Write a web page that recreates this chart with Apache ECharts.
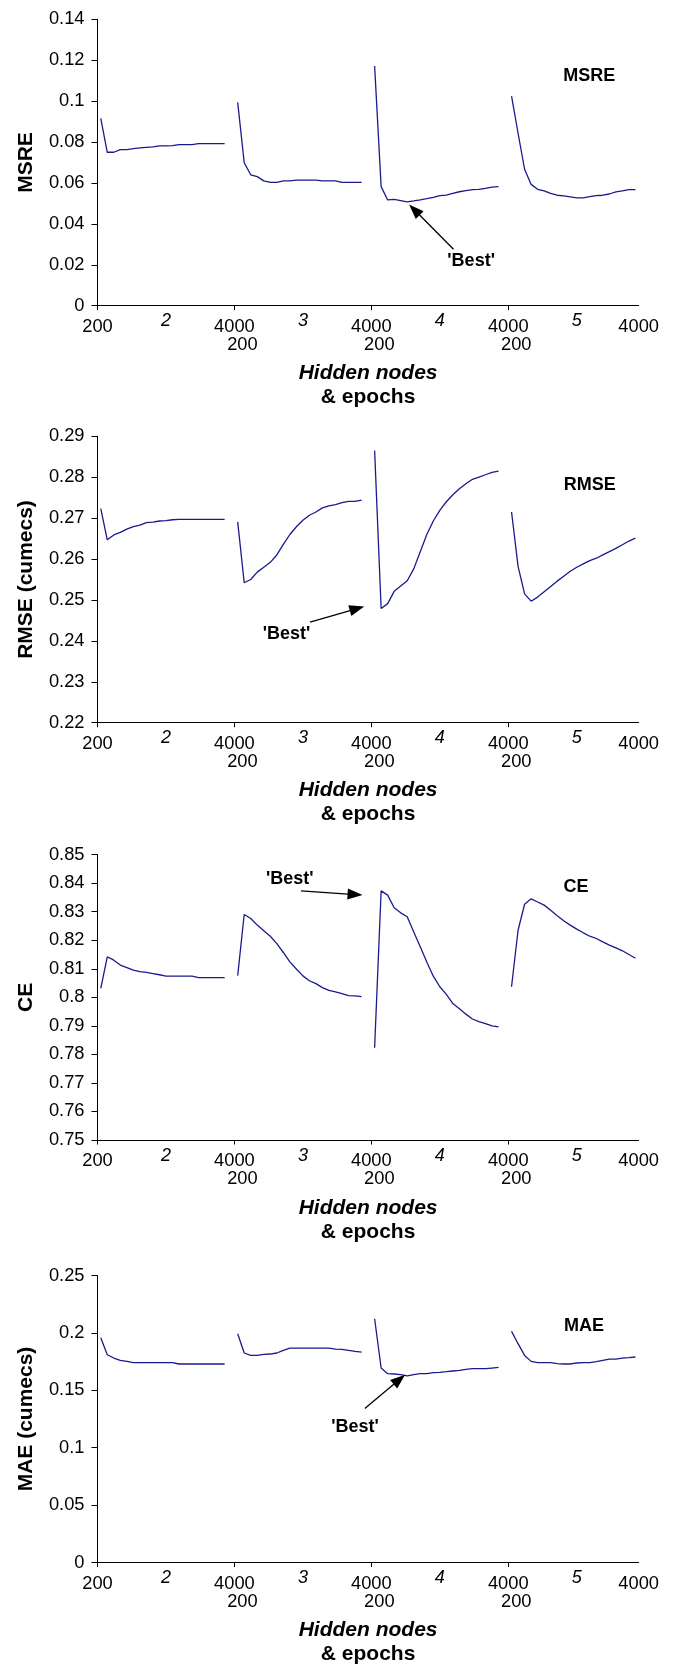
<!DOCTYPE html>
<html><head><meta charset="utf-8">
<script src="https://cdn.jsdelivr.net/npm/echarts@6/dist/echarts.min.js"></script>
<style>html,body{margin:0;padding:0;background:#fff}#c{width:673px;height:1672px}</style>
</head><body><div id="c"></div>
<script>
// ---------- data ----------
const hiddenNodes = ['2', '3', '4', '5'];
const epochs = [200, 400, 600, 800, 1000, 1200, 1400, 1600, 1800, 2000, 2200, 2400, 2600, 2800, 3000, 3200, 3400, 3600, 3800, 4000];
const epochStartLabel = '200';
const epochEndLabel = '4000';

const msreTicks = [0, 0.14, 0.02];
const msre2 = [0.0916,0.0750,0.0750,0.0763,0.0763,0.0768,0.0771,0.0774,0.0776,0.0781,0.0781,0.0782,0.0787,0.0787,0.0787,0.0792,0.0792,0.0792,0.0792,0.0792];
const msre3 = [0.0994,0.0699,0.0640,0.0631,0.0610,0.0603,0.0603,0.0610,0.0610,0.0614,0.0614,0.0614,0.0614,0.0610,0.0610,0.0610,0.0603,0.0603,0.0603,0.0603];
const msre4 = [0.1172,0.0582,0.0517,0.0520,0.0514,0.0508,0.0512,0.0517,0.0523,0.0530,0.0538,0.0541,0.0549,0.0557,0.0562,0.0567,0.0569,0.0574,0.0580,0.0582];
const msre5 = [0.1025,0.0843,0.0667,0.0593,0.0569,0.0561,0.0549,0.0540,0.0537,0.0532,0.0527,0.0527,0.0533,0.0538,0.0540,0.0546,0.0556,0.0561,0.0567,0.0567];

const rmseTicks = [0.22, 0.29, 0.01];
const rmse2 = [0.2723,0.2647,0.2659,0.2665,0.2673,0.2679,0.2683,0.2689,0.2690,0.2693,0.2694,0.2696,0.2697,0.2697,0.2697,0.2697,0.2697,0.2697,0.2697,0.2697];
const rmse3 = [0.2691,0.2542,0.2550,0.2568,0.2580,0.2592,0.2610,0.2636,0.2660,0.2679,0.2695,0.2707,0.2715,0.2725,0.2730,0.2733,0.2738,0.2741,0.2741,0.2744];
const rmse4 = [0.2865,0.2479,0.2491,0.2521,0.2534,0.2547,0.2576,0.2618,0.2660,0.2693,0.2719,0.2740,0.2757,0.2772,0.2784,0.2795,0.2800,0.2806,0.2812,0.2815];
const rmse5 = [0.2715,0.2582,0.2515,0.2497,0.2507,0.2520,0.2533,0.2546,0.2558,0.2570,0.2580,0.2588,0.2596,0.2602,0.2610,0.2618,0.2626,0.2635,0.2644,0.2651];

const ceTicks = [0.75, 0.85, 0.01];
const ce2 = [0.8031,0.8142,0.8130,0.8113,0.8104,0.8095,0.8090,0.8087,0.8083,0.8079,0.8074,0.8074,0.8074,0.8074,0.8074,0.8069,0.8069,0.8069,0.8069,0.8069];
const ce3 = [0.8076,0.8290,0.8276,0.8253,0.8233,0.8214,0.8188,0.8157,0.8124,0.8099,0.8075,0.8058,0.8048,0.8034,0.8024,0.8019,0.8013,0.8006,0.8005,0.8002];
const ce4 = [0.7823,0.8373,0.8358,0.8314,0.8296,0.8282,0.8229,0.8177,0.8124,0.8074,0.8037,0.8010,0.7978,0.7960,0.7941,0.7924,0.7915,0.7908,0.7900,0.7896];
const ce5 = [0.8037,0.8235,0.8326,0.8345,0.8334,0.8323,0.8305,0.8286,0.8268,0.8253,0.8239,0.8226,0.8214,0.8206,0.8194,0.8183,0.8173,0.8163,0.8150,0.8137];

const maeTicks = [0, 0.25, 0.05];
const mae2 = [0.1958,0.1810,0.1781,0.1761,0.1752,0.1741,0.1741,0.1741,0.1741,0.1741,0.1741,0.1741,0.1729,0.1729,0.1729,0.1729,0.1729,0.1729,0.1729,0.1729];
const mae3 = [0.1993,0.1825,0.1804,0.1804,0.1813,0.1816,0.1825,0.1848,0.1868,0.1868,0.1868,0.1868,0.1868,0.1868,0.1868,0.1859,0.1857,0.1848,0.1839,0.1833];
const mae4 = [0.2123,0.1694,0.1645,0.1642,0.1636,0.1625,0.1636,0.1645,0.1645,0.1654,0.1657,0.1662,0.1668,0.1674,0.1683,0.1688,0.1688,0.1688,0.1694,0.1700];
const mae5 = [0.2013,0.1906,0.1804,0.1752,0.1741,0.1741,0.1741,0.1732,0.1729,0.1729,0.1738,0.1741,0.1741,0.1749,0.1761,0.1772,0.1772,0.1781,0.1784,0.1790];

const bestLabel = "'Best'";
const xTitleLine1 = 'Hidden nodes';
const xTitleLine2 = '& epochs';

// ---------- layout / annotations (positions in axis units) ----------
const panels = [
  { yName: 'MSRE', tag: 'MSRE', segs: [msre2, msre3, msre4, msre5], ticks: msreTicks, top: 19.3, height: 286.4,
    tagAt: [75.4, 0.1121], bestAt: [57.3, 0.0220], arrow: [[54.6, 0.0276], [48.6, 0.0469]] },
  { yName: 'RMSE (cumecs)', tag: 'RMSE', segs: [rmse2, rmse3, rmse4, rmse5], ticks: rmseTicks, top: 436.3, height: 286.4,
    tagAt: [75.5, 0.2780], bestAt: [29.0, 0.2417], arrow: [[32.6, 0.2446], [39.8, 0.2479]] },
  { yName: 'CE', tag: 'CE', segs: [ce2, ce3, ce4, ce5], ticks: ceTicks, top: 854.6, height: 285.4,
    tagAt: [73.4, 0.8387], bestAt: [29.5, 0.8416], arrow: [[31.2, 0.8373], [39.5, 0.8360]] },
  { yName: 'MAE (cumecs)', tag: 'MAE', segs: [mae2, mae3, mae4, mae5], ticks: maeTicks, top: 1275.5, height: 287,
    tagAt: [74.6, 0.2059], bestAt: [39.5, 0.1181], arrow: [[41.0, 0.1341], [46.3, 0.1594]] }
];

const FONT = '"Liberation Sans", Arial, Helvetica, sans-serif';
const segLen = epochs.length + 1;
const nCat = hiddenNodes.length * segLen - 1;
const categories = [];
hiddenNodes.forEach((h, k) => {
  epochs.forEach(e => categories.push(h + ':' + e));
  if (k < hiddenNodes.length - 1) categories.push(h + ':gap');
});
const boundaryTicks = hiddenNodes.map((h, k) => k * segLen);       // segment starts
const boundaryLabels = boundaryTicks.concat([nCat]);                 // plus axis end
function joinSegs(segs) {
  const out = [];
  segs.forEach((s, k) => { out.push(...s); if (k < segs.length - 1) out.push(null); });
  return out;
}

const grid = [], xAxis = [], yAxis = [], series = [];
panels.forEach((p, g) => {
  grid.push({ left: 97.5, width: 541.2, top: p.top, height: p.height, containLabel: false, outerBoundsMode: 'none' });
  xAxis.push({
    type: 'category', gridIndex: g, position: 'bottom', data: categories, boundaryGap: true,
    axisLine: { show: true, lineStyle: { color: '#000', width: 1 } },
    axisTick: { show: false },
    axisLabel: {
      interval: (i) => i % segLen === Math.floor(epochs.length / 2),
      formatter: (v, i) => hiddenNodes[Math.floor(i / segLen)],
      fontStyle: 'italic', fontSize: 18, color: '#000', margin: 6.5, lineHeight: 18, fontFamily: FONT
    },
    splitLine: { show: false }
  });
  xAxis.push({
    type: 'value', gridIndex: g, position: 'bottom', min: 0, max: nCat, interval: segLen,
    axisLine: { show: false },
    axisTick: { show: true, length: 4.5, customValues: boundaryTicks, lineStyle: { color: '#000', width: 1 } },
    axisLabel: {
      margin: 12, fontSize: 18.3, lineHeight: 18, color: '#000', fontFamily: FONT,
      customValues: boundaryLabels,
      formatter: (v) => v === 0 ? epochStartLabel : (v >= nCat ? epochEndLabel : '{a|' + epochEndLabel + '}\n{b|' + epochStartLabel + '}'),
      rich: {
        a: { fontSize: 18.3, lineHeight: 18, color: '#000', fontFamily: FONT },
        b: { fontSize: 18.3, lineHeight: 18, color: '#000', fontFamily: FONT, padding: [0, 0, 0, 16] }
      }
    },
    splitLine: { show: false },
    name: '{a|' + xTitleLine1 + '}\n{b|' + xTitleLine2 + '}',
    nameLocation: 'middle', nameGap: 56,
    nameTextStyle: {
      rich: {
        a: { fontSize: 21, fontWeight: 'bold', fontStyle: 'italic', lineHeight: 24, color: '#000', fontFamily: FONT },
        b: { fontSize: 21, fontWeight: 'bold', lineHeight: 24, color: '#000', fontFamily: FONT }
      }
    }
  });
  yAxis.push({
    type: 'value', gridIndex: g, min: p.ticks[0], max: p.ticks[1], interval: p.ticks[2],
    axisLine: { show: true, lineStyle: { color: '#000', width: 1 } },
    axisTick: { show: true, length: 6, lineStyle: { color: '#000', width: 1 } },
    axisLabel: { fontSize: 18.3, color: '#000', margin: 13, fontFamily: FONT },
    splitLine: { show: false },
    name: p.yName, nameLocation: 'middle', nameGap: 61,
    nameTextStyle: { fontSize: 21, fontWeight: 'bold', color: '#000', fontFamily: FONT }
  });
  series.push({
    type: 'line', xAxisIndex: 2 * g, yAxisIndex: g, data: joinSegs(p.segs),
    showSymbol: false, symbol: 'none', connectNulls: false, silent: true,
    lineStyle: { color: '#1a1a8c', width: 1.3 }
  });
  series.push({
    type: 'line', xAxisIndex: 2 * g + 1, yAxisIndex: g, data: [], silent: true,
    markLine: {
      silent: true, animation: false, symbol: ['none', 'triangle'], symbolSize: [11, 15],
      lineStyle: { color: '#000', width: 1.3, type: 'solid' }, label: { show: false },
      emphasis: { disabled: true },
      data: [[{ coord: p.arrow[0] }, { coord: p.arrow[1] }]]
    },
    markPoint: {
      silent: true, animation: false, symbol: 'circle', symbolSize: 1,
      itemStyle: { color: 'rgba(0,0,0,0)' },
      label: { show: true, position: 'inside', color: '#000', fontSize: 18, fontWeight: 'bold', fontFamily: FONT,
        formatter: (d) => d.name },
      data: [
        { name: p.tag, coord: p.tagAt },
        { name: bestLabel, coord: p.bestAt }
      ]
    }
  });
});

const chart = echarts.init(document.getElementById('c'));
chart.setOption({
  animation: false,
  backgroundColor: '#fff',
  textStyle: { fontFamily: FONT },
  grid, xAxis, yAxis, series
});
</script>
</body></html>
